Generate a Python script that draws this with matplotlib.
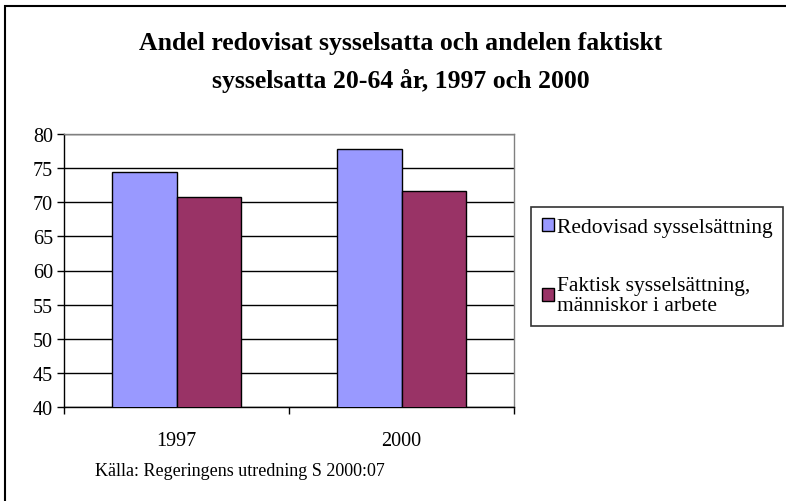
import numpy as np
import matplotlib.pyplot as plt
from matplotlib.patches import Rectangle

# -----------------------------------
# Data
# -----------------------------------

years = ["1997", "2000"]
redovisad = [74.5, 77.8]
faktisk = [70.7, 71.7]
series_labels = ["Redovisad sysselsättning", "Faktisk sysselsättning,\nmänniskor i arbete"]
y_ticks = [40, 45, 50, 55, 60, 65, 70, 75, 80]

plt.rcParams['font.family'] = ['Liberation Serif', 'DejaVu Serif']

fig = plt.figure(figsize=(7.86, 5.02), dpi=100)
ax = fig.add_axes([64/786, 1 - 408/502, 450/786, 273/502])

x = np.arange(len(years))
w = 0.285
ax.bar(x - w/2, redovisad, w, color="#9999ff", edgecolor="black", linewidth=1, zorder=3,
       label=series_labels[0])
ax.bar(x + w/2, faktisk, w, color="#993366", edgecolor="black", linewidth=1, zorder=3,
       label=series_labels[1])

ax.set_xlim(-0.5, len(years) - 0.5)
ax.set_ylim(40, 80)
ax.set_yticks(y_ticks)
ax.yaxis.grid(True, color="black", linewidth=1, zorder=0)
ax.set_xticks(x)
ax.set_xticklabels(years, fontsize=14.5)
ax.set_xticks([-0.5, 0.5, 1.5], minor=True)
ax.tick_params(axis="x", which="major", length=0, pad=17)
ax.tick_params(axis="x", which="minor", length=5, direction="out", width=1)
ax.tick_params(axis="y", labelsize=14.5, length=5, width=1, direction="out", pad=3)
for s in ax.spines.values():
    s.set_linewidth(1)
ax.spines["right"].set_color("#808080")
ax.spines["top"].set_color("#808080")

fig.text(401/786, 1 - 50/502, "Andel redovisat sysselsatta och andelen faktiskt",
         ha="center", va="baseline", fontsize=18.5, fontweight="bold")
fig.text(401/786, 1 - 88/502, "sysselsatta 20-64 år, 1997 och 2000",
         ha="center", va="baseline", fontsize=18.5, fontweight="bold")

fig.text(95/786, 1 - 471/502, "Källa: Regeringens utredning S 2000:07",
         ha="left", va="center", fontsize=13)

leg = fig.legend(loc="upper left", bbox_to_anchor=(531/786, 1 - 208/502),
                 fontsize=15.5, frameon=True, fancybox=False, edgecolor="black",
                 handlelength=0.55, handleheight=0.55, handletextpad=0.15,
                 labelspacing=1.8, borderpad=0.5, borderaxespad=0)
leg.get_frame().set_linewidth(1.2)
for t in leg.get_texts():
    t.set_linespacing(1.1)

fig.patches.append(Rectangle((5/786, -0.1), 1.0, 1.1 - 7/502, transform=fig.transFigure,
                             fill=False, edgecolor="black", linewidth=1.5))

plt.savefig("out.png", dpi=100)
